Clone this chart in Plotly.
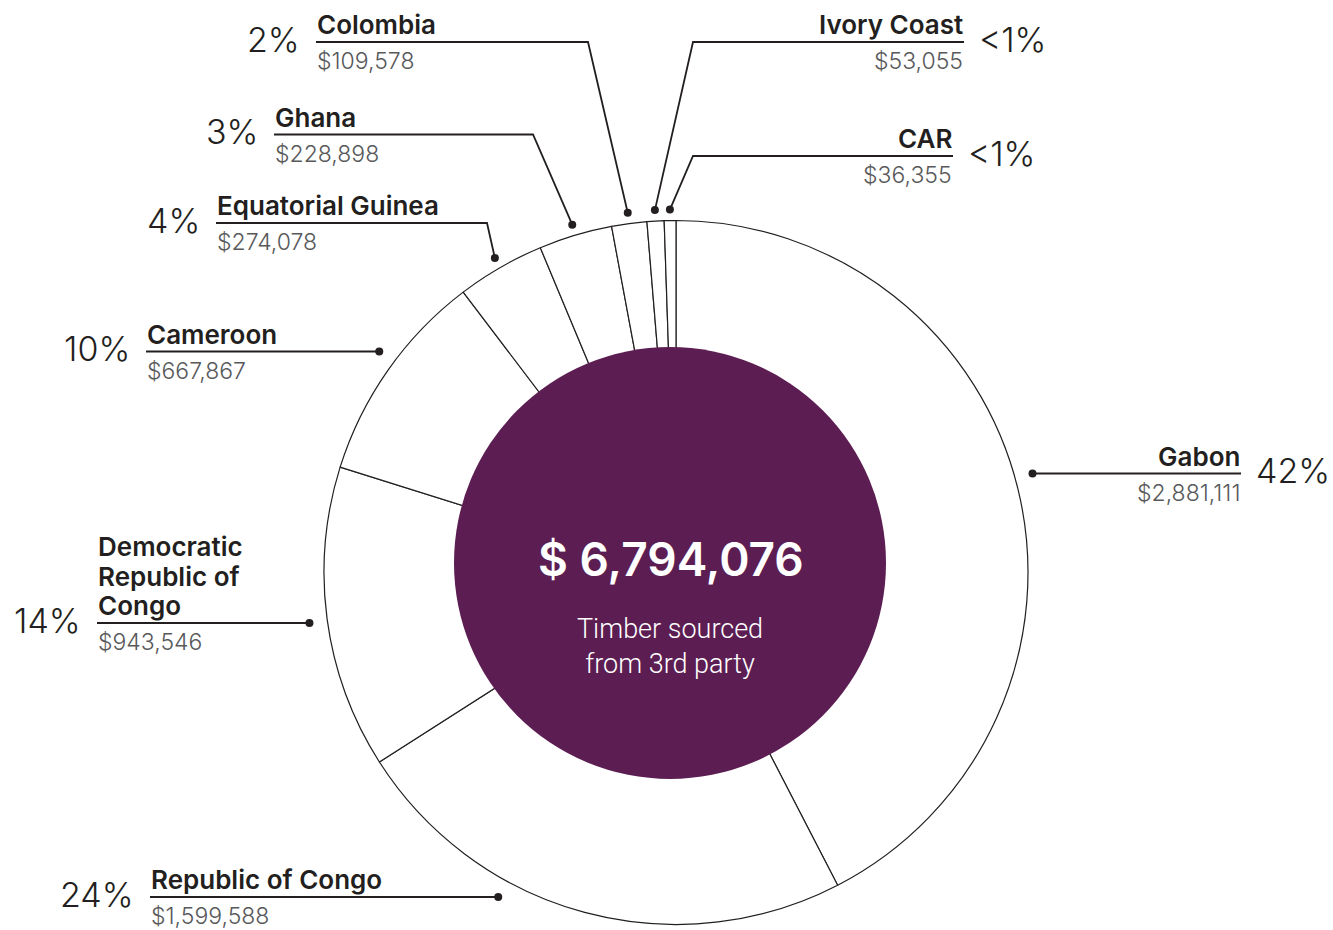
import math
import plotly.graph_objects as go

# ---- data -------------------------------------------------------------
countries = ["Gabon", "Republic of Congo", "Democratic Republic of Congo", "Cameroon",
             "Equatorial Guinea", "Ghana", "Colombia", "Ivory Coast", "CAR"]
display_names = [["Gabon"], ["Republic of Congo"], ["Democratic", "Republic of", "Congo"],
                 ["Cameroon"], ["Equatorial Guinea"], ["Ghana"], ["Colombia"],
                 ["Ivory Coast"], ["CAR"]]
values_usd = [2881111, 1599588, 943546, 667867, 274078, 228898, 109578, 53055, 36355]
center_caption = ["Timber sourced", "from 3rd party"]

# ---- geometry (pixels, origin top-left) --------------------------------
W, H = 1333, 930
CX, CY, R = 676, 572.5, 352          # ring centre and radius
HUB_X, HUB_Y, HUB_R = 670, 563, 216  # filled centre disc
ELBOW_DOT_R = 363                    # dot radius for bent leaders
ROW_DOT_R = 370                      # dot radius for straight leaders
NAME_LEADING = 29.5                  # spacing of wrapped name lines

# callout rows: y of the underline, x where the underline ends at the text,
# optional elbow x where the leader bends down to the ring
callouts = {
    "Gabon":                        dict(side="right", row=473.5, text_x=1241),
    "Republic of Congo":            dict(side="left",  row=897,   text_x=150),
    "Democratic Republic of Congo": dict(side="left",  row=623,   text_x=97),
    "Cameroon":                     dict(side="left",  row=351.5, text_x=146),
    "Equatorial Guinea":            dict(side="left",  row=223,   text_x=216, elbow=487),
    "Ghana":                        dict(side="left",  row=134.5, text_x=274, elbow=533),
    "Colombia":                     dict(side="left",  row=42,    text_x=316, elbow=588),
    "Ivory Coast":                  dict(side="right", row=42,    text_x=964, elbow=693),
    "CAR":                          dict(side="right", row=156,   text_x=953, elbow=693),
}

INK = "#231f20"
GREY = "#58595b"
PURPLE = "#5c1e52"
FONT = "Inter"

total = sum(values_usd)

fig = go.Figure()

# ring of slices, clockwise from 12 o'clock
fig.add_trace(go.Pie(
    labels=countries, values=values_usd, sort=False, direction="clockwise", rotation=0,
    hole=0, textinfo="none", hoverinfo="label+value+percent", showlegend=False,
    marker=dict(colors=["#ffffff"] * len(values_usd), line=dict(color=INK, width=1.2)),
    domain=dict(x=[(CX - R) / W, (CX + R) / W], y=[(H - CY - R) / H, (H - CY + R) / H]),
))

line_x, line_y, dot_x, dot_y = [], [], [], []
annotations = []
cum = 0.0
for name, lines, v in zip(countries, display_names, values_usd):
    theta = 2 * math.pi * (cum + v / 2) / total
    cum += v
    c = callouts[name]
    row, tx = c["row"], c["text_x"]
    if "elbow" in c:
        px = CX + ELBOW_DOT_R * math.sin(theta)
        py = CY - ELBOW_DOT_R * math.cos(theta)
        line_x += [px, c["elbow"], tx, None]
        line_y += [py, row, row, None]
    else:
        dx = math.sqrt(max(ROW_DOT_R ** 2 - (row - CY) ** 2, 0))
        px = CX + math.copysign(dx, math.sin(theta))
        py = row
        line_x += [px, tx, None]
        line_y += [py, row, None]
    dot_x.append(px)
    dot_y.append(py)

    pct = v / total * 100
    pct_text = "<1%" if pct < 1 else f"{round(pct)}%"
    left = c["side"] == "left"
    anchor = "left" if left else "right"
    # name lines stacked upwards from the underline
    for k, text in enumerate(reversed(lines)):
        annotations.append(dict(
            x=tx, y=row - 1 - k * NAME_LEADING, text=text, xanchor=anchor, yanchor="bottom",
            align=anchor, showarrow=False, borderpad=0,
            font=dict(family=FONT, size=26, color=INK, weight=600)))
    annotations.append(dict(
        x=tx, y=row + 4, text=f"${v:,}", xanchor=anchor, yanchor="top", align=anchor,
        showarrow=False, borderpad=0,
        font=dict(family=FONT, size=23, color=GREY, weight=300)))
    annotations.append(dict(
        x=tx - 15 if left else tx + 14, y=row - 3, text=pct_text,
        xanchor="right" if left else "left", yanchor="middle",
        showarrow=False, borderpad=0,
        font=dict(family=FONT, size=34, color=INK, weight=300)))

# leaders and their end dots
fig.add_trace(go.Scatter(x=line_x, y=line_y, mode="lines", hoverinfo="skip",
                         line=dict(color=INK, width=1.8), showlegend=False))
fig.add_trace(go.Scatter(x=dot_x, y=dot_y, mode="markers", hoverinfo="skip",
                         marker=dict(color=INK, size=8), showlegend=False))

# centre disc with the total
fig.add_shape(type="circle", xref="x", yref="y", layer="above",
              x0=HUB_X - HUB_R, x1=HUB_X + HUB_R, y0=HUB_Y - HUB_R, y1=HUB_Y + HUB_R,
              fillcolor=PURPLE, line=dict(width=0))
annotations.append(dict(
    x=HUB_X + 1, y=559, text=f"$ {total:,}", xanchor="center", yanchor="middle",
    showarrow=False, font=dict(family=FONT, size=46, color="#ffffff", weight=600)))
annotations.append(dict(
    x=HUB_X, y=646, text="<br>".join(center_caption), xanchor="center", yanchor="middle",
    showarrow=False, font=dict(family="Roboto", size=27, color="#ffffff", weight=300)))

fig.update_layout(
    width=W, height=H, margin=dict(l=0, r=0, t=0, b=0),
    paper_bgcolor="#ffffff", plot_bgcolor="#ffffff",
    xaxis=dict(range=[0, W], visible=False, fixedrange=True),
    yaxis=dict(range=[H, 0], visible=False, fixedrange=True),
    annotations=annotations,
)

fig.write_html("out.html")
